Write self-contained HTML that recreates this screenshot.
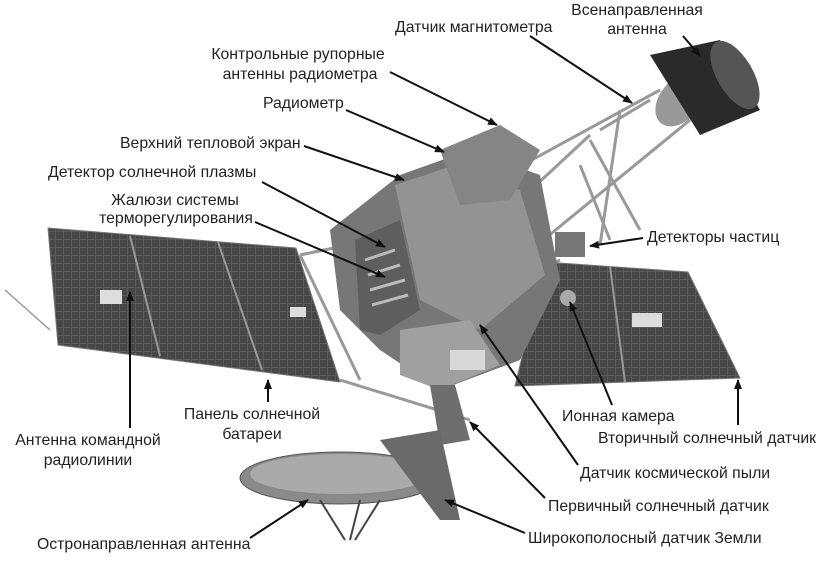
<!DOCTYPE html>
<html><head><meta charset="utf-8"><style>
html,body{margin:0;padding:0;background:#fff;}
svg{display:block;}
text{font-family:"Liberation Sans","DejaVu Sans",sans-serif;font-size:15.8px;fill:#222;}
</style></head><body>
<svg width="826" height="565" viewBox="0 0 826 565" xmlns="http://www.w3.org/2000/svg">
<defs>
<marker id="a" markerWidth="10" markerHeight="8" refX="9" refY="4" orient="auto" markerUnits="userSpaceOnUse">
<path d="M0,0 L10,4 L0,8 Z" fill="#111"/></marker>
<pattern id="cells" width="8" height="8" patternUnits="userSpaceOnUse">
<rect width="8" height="8" fill="#5a5a5a"/><rect width="7" height="7" fill="#474747"/></pattern>
</defs>
<line x1="5" y1="290" x2="50" y2="330" stroke="#999" stroke-width="1.5"/>
<polygon points="48,228 296,248 340,382 58,345" fill="url(#cells)" stroke="#777"/>
<line x1="130" y1="236" x2="160" y2="356" stroke="#999" stroke-width="2"/>
<line x1="218" y1="242" x2="262" y2="370" stroke="#999" stroke-width="2"/>
<rect x="100" y="290" width="22" height="14" fill="#ddd"/>
<rect x="290" y="307" width="16" height="10" fill="#ddd"/>
<polygon points="545,262 688,272 740,378 515,386" fill="url(#cells)" stroke="#777"/>
<line x1="610" y1="266" x2="625" y2="382" stroke="#999" stroke-width="2"/>
<rect x="632" y="313" width="30" height="14" fill="#ddd"/>
<g stroke="#999" stroke-width="3" fill="none">
<line x1="440" y1="210" x2="660" y2="90"/>
<line x1="470" y1="300" x2="690" y2="120"/>
<line x1="590" y1="140" x2="640" y2="230"/>
<line x1="600" y1="130" x2="650" y2="100"/>
<line x1="580" y1="165" x2="610" y2="240"/>
<line x1="520" y1="200" x2="590" y2="135"/>
<line x1="620" y1="110" x2="600" y2="245"/>
<line x1="300" y1="255" x2="360" y2="380"/>
<line x1="300" y1="255" x2="420" y2="230"/>
<line x1="340" y1="380" x2="470" y2="420"/>
<line x1="560" y1="260" x2="470" y2="300"/>
</g>
<ellipse cx="680" cy="100" rx="20" ry="30" fill="#999" transform="rotate(40 680 100)"/>
<polygon points="650,55 720,40 760,110 700,135" fill="#2a2a2a"/>
<ellipse cx="735" cy="75" rx="18" ry="38" fill="#555" transform="rotate(-30 735 75)"/>
<polygon points="330,230 400,175 470,150 540,175 560,280 520,360 440,390 380,350 340,310" fill="#777"/>
<polygon points="395,185 455,165 520,190 545,275 480,330 420,300" fill="#939393"/>
<polygon points="440,150 500,125 540,150 510,200 460,205" fill="#858585"/>
<polygon points="355,240 400,220 420,310 380,335 360,330" fill="#5e5e5e"/>
<g stroke="#bbb" stroke-width="3"><line x1="365" y1="260" x2="395" y2="250"/><line x1="368" y1="275" x2="400" y2="265"/><line x1="370" y1="290" x2="405" y2="280"/><line x1="372" y1="305" x2="408" y2="295"/></g>
<polygon points="400,330 470,320 500,365 440,390 400,375" fill="#a0a0a0"/>
<rect x="450" y="350" width="35" height="20" fill="#d8d8d8"/>
<circle cx="568" cy="298" r="8" fill="#aaa"/>
<rect x="555" y="232" width="30" height="25" fill="#777"/>
<polygon points="430,385 455,385 470,440 440,445" fill="#6e6e6e"/>
<ellipse cx="340" cy="478" rx="100" ry="26" fill="#8a8a8a" stroke="#555"/>
<ellipse cx="340" cy="474" rx="90" ry="20" fill="#aaa"/>
<polygon points="380,440 440,430 460,520 440,520" fill="#6a6a6a"/>
<g stroke="#444" stroke-width="2"><line x1="320" y1="500" x2="345" y2="540"/><line x1="360" y1="500" x2="350" y2="540"/><line x1="380" y1="500" x2="355" y2="540"/></g>
<g stroke="#111" stroke-width="2" marker-end="url(#a)">
<line x1="683" y1="36" x2="700" y2="56"/>
<line x1="530" y1="36" x2="632" y2="103"/>
<line x1="390" y1="72" x2="497" y2="125"/>
<line x1="346" y1="110" x2="444" y2="152"/>
<line x1="304" y1="146" x2="404" y2="180"/>
<line x1="262" y1="182" x2="385" y2="247"/>
<line x1="255" y1="222" x2="385" y2="277"/>
<line x1="643" y1="238" x2="590" y2="246"/>
<line x1="268" y1="402" x2="268" y2="380"/>
<line x1="612" y1="405" x2="570" y2="302"/>
<line x1="130" y1="428" x2="130" y2="292"/>
<line x1="738" y1="425" x2="738" y2="380"/>
<line x1="578" y1="465" x2="480" y2="325"/>
<line x1="545" y1="498" x2="470" y2="422"/>
<line x1="525" y1="533" x2="445" y2="500"/>
<line x1="250" y1="538" x2="308" y2="500"/>
</g>
<text x="637" y="15" text-anchor="middle">Всенаправленная</text>
<text x="637" y="34" text-anchor="middle">антенна</text>
<text x="395" y="32">Датчик магнитометра</text>
<text x="298" y="59" text-anchor="middle">Контрольные рупорные</text>
<text x="300" y="79" text-anchor="middle">антенны радиометра</text>
<text x="263" y="108">Радиометр</text>
<text x="120" y="148">Верхний тепловой экран</text>
<text x="48" y="177">Детектор солнечной плазмы</text>
<text x="175" y="205" text-anchor="middle">Жалюзи системы</text>
<text x="176" y="223" text-anchor="middle">терморегулирования</text>
<text x="647" y="242">Детекторы частиц</text>
<text x="252" y="419" text-anchor="middle">Панель солнечной</text>
<text x="252" y="439" text-anchor="middle">батареи</text>
<text x="562" y="421">Ионная камера</text>
<text x="88" y="445" text-anchor="middle">Антенна командной</text>
<text x="88" y="465" text-anchor="middle">радиолинии</text>
<text x="598" y="443">Вторичный солнечный датчик</text>
<text x="580" y="478">Датчик космической пыли</text>
<text x="548" y="511">Первичный солнечный датчик</text>
<text x="528" y="543">Широкополосный датчик Земли</text>
<text x="37" y="549">Остронаправленная антенна</text>
</svg>
</body></html>
